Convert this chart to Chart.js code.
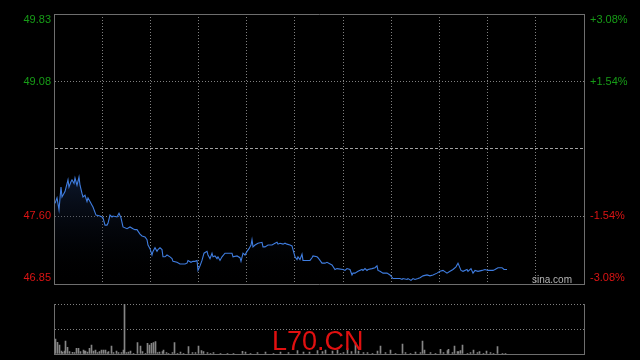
<!DOCTYPE html>
<html><head><meta charset="utf-8">
<script src="https://cdn.jsdelivr.net/npm/chart.js@4/dist/chart.umd.min.js"></script>
<style>
html,body{margin:0;padding:0;background:#000;}
#wrap{position:relative;width:640px;height:360px;background:#000;overflow:hidden;}
canvas{position:absolute;left:0;top:0;}
</style></head><body>
<div id="wrap">
<canvas id="price" width="640" height="360" style="width:640px;height:360px"></canvas>
<canvas id="vol" width="640" height="360" style="width:640px;height:360px"></canvas>
</div>
<script>
// ---- data ----
const symbol = 'L70.CN';
const site = 'sina.com';
const prevClose = 48.34;
const priceTicks = [46.85, 47.60, 48.34, 49.08, 49.83];
const leftLabels = ['46.85', '47.60', '', '49.08', '49.83'];
const rightLabels = ['-3.08%', '-1.54%', '', '+1.54%', '+3.08%'];
const gridTimes = [0, 48.2, 96.4, 144.5, 192.7, 240.9, 289.1, 337.3, 385.5, 433.6, 481.8, 530];

const times = [1,3,5,7,8,11,14,15,17,18,20,21,23,25,26,28,29,31,33,34,36,38,39,42,46,48,49,51,53,54,56,58,59,63,65,67,69,73,76,79,81,83,86,88,91,93,94,96,98,99,101,103,104,106,108,109,111,113,116,118,119,123,126,131,133,134,137,139,141,143,144,146,148,150,153,154,156,158,159,161,163,164,166,168,171,178,179,183,186,187,189,191,193,195,197,198,199,201,204,208,209,211,214,218,221,223,224,226,229,231,233,236,238,239,241,243,244,246,248,249,251,256,258,259,263,264,266,268,271,273,278,281,283,289,291,293,296,298,299,301,304,308,309,311,313,314,318,321,323,324,326,329,333,336,339,346,348,349,353,354,357,359,361,364,366,369,373,376,379,383,386,389,393,396,399,402,404,407,409,413,414,417,419,421,424,428,431,434,439,441,444,448,450,453];
const prices = [47.74,47.80,47.67,47.92,47.81,47.87,48.00,47.92,47.98,48.00,47.96,48.02,47.94,48.03,47.94,47.85,47.81,47.83,47.76,47.80,47.76,47.72,47.70,47.61,47.60,47.59,47.58,47.50,47.50,47.52,47.61,47.59,47.60,47.59,47.63,47.58,47.48,47.46,47.48,47.46,47.45,47.45,47.40,47.38,47.37,47.34,47.28,47.24,47.17,47.21,47.25,47.21,47.23,47.25,47.23,47.15,47.15,47.17,47.15,47.13,47.10,47.09,47.07,47.07,47.08,47.11,47.09,47.10,47.10,47.11,47.00,47.05,47.11,47.19,47.21,47.17,47.13,47.19,47.15,47.16,47.13,47.15,47.11,47.15,47.19,47.19,47.15,47.16,47.14,47.10,47.19,47.17,47.21,47.24,47.28,47.34,47.26,47.28,47.30,47.31,47.26,47.26,47.28,47.28,47.30,47.31,47.29,47.30,47.29,47.30,47.29,47.28,47.27,47.23,47.15,47.12,47.15,47.12,47.18,47.11,47.11,47.11,47.14,47.16,47.15,47.14,47.11,47.08,47.08,47.09,47.06,47.01,47.02,47.01,47.00,47.02,47.01,46.95,46.97,46.97,46.99,47.01,47.00,47.02,47.00,47.01,47.02,47.03,47.05,47.00,46.99,46.97,46.97,46.95,46.91,46.91,46.90,46.91,46.90,46.91,46.89,46.91,46.90,46.91,46.92,46.94,46.95,46.94,46.95,46.97,46.99,47.00,46.97,46.99,47.01,47.04,47.08,47.00,46.99,47.01,46.99,47.02,46.97,47.00,46.99,47.00,47.01,47.00,47.00,47.01,47.03,47.03,47.01,47.01];

const volTimes = [1,3,5,7,8,10,11,13,15,18,20,22,24,26,29,30,31,33,35,37,39,41,43,45,47,49,51,53,54,57,59,62,64,67,69,70,72,74,76,79,83,86,88,91,93,95,97,99,101,103,105,108,109,112,114,118,120,123,126,129,134,138,141,144,147,149,153,156,159,166,173,179,188,191,196,203,211,219,226,234,243,249,255,263,268,271,278,283,286,289,293,297,301,304,309,313,318,323,326,331,336,341,348,351,356,361,366,368,370,376,381,386,389,393,394,398,400,403,404,406,408,413,416,419,423,425,429,432,436,439,443,448,451];
const volumes = [1500,1170,900,300,170,300,1300,670,230,170,130,570,570,230,400,300,300,200,570,900,300,400,130,230,400,400,400,130,230,800,130,300,130,130,400,5000,130,200,300,70,1130,800,230,70,1070,900,1070,1130,1230,130,200,230,400,130,70,130,1130,70,200,70,730,130,130,800,330,230,130,70,130,70,70,70,270,200,70,130,200,70,200,130,330,200,200,330,230,400,300,400,70,130,530,230,1130,300,130,130,70,300,800,130,400,70,1000,130,70,200,130,1300,400,130,70,470,130,330,470,130,800,230,230,330,900,70,130,400,130,230,70,300,130,70,730,70,30];

// ---- styles ----
const GREEN = '#179c17', RED = '#dc1414';
const BORDER = '#6e6e6e', DOT = '#808080';
const FONT = '"Liberation Sans", Arial, sans-serif';
const T0 = 0, T1 = 530;
const volMax = Math.max(...volumes);

const priceLabels = {
  id: 'priceLabels',
  afterDraw(chart) {
    const {ctx, chartArea: a, scales: {y}} = chart;
    ctx.save();
    ctx.font = '11px ' + FONT;
    ctx.textBaseline = 'middle';
    priceTicks.forEach((v, i) => {
      if (!leftLabels[i]) return;
      let py = y.getPixelForValue(v);
      if (i === priceTicks.length - 1) py += 6;
      else if (i === 0) py -= 6;
      ctx.fillStyle = v >= prevClose ? GREEN : RED;
      ctx.textAlign = 'right';
      ctx.fillText(leftLabels[i], a.left - 3, py);
      ctx.textAlign = 'left';
      ctx.fillText(rightLabels[i], a.right + 6, py);
    });
    ctx.font = '10px ' + FONT;
    ctx.fillStyle = '#b4b4b4';
    ctx.textAlign = 'left';
    ctx.textBaseline = 'alphabetic';
    ctx.fillText(site, 532, a.bottom - 1);
    ctx.restore();
  }
};

const volLabel = {
  id: 'volLabel',
  afterDraw(chart) {
    const {ctx} = chart;
    ctx.save();
    ctx.font = '27px ' + FONT;
    ctx.fillStyle = '#e01010';
    ctx.textAlign = 'left';
    ctx.textBaseline = 'alphabetic';
    ctx.fillText(symbol, 272, 350);
    ctx.restore();
  }
};

function areaFill(c) {
  const chart = c.chart, a = chart.chartArea;
  if (!a) return 'rgba(0,0,0,0)';
  const y = chart.scales.y;
  const g = chart.ctx.createLinearGradient(0, y.getPixelForValue(Math.max(...prices)), 0, a.bottom);
  g.addColorStop(0, 'rgba(25,45,85,0.5)');
  g.addColorStop(1, 'rgba(0,0,0,0)');
  return g;
}

const zeroW = s => { s.width = 0; };
const zeroH = s => { s.height = 0; };

new Chart(document.getElementById('price'), {
  type: 'line',
  data: {
    datasets: [{
      data: times.map((t, i) => ({x: t, y: prices[i]})),
      borderColor: '#3f7de0',
      borderWidth: 1.1,
      pointRadius: 0,
      tension: 0,
      fill: 'start',
      backgroundColor: areaFill
    }]
  },
  options: {
    responsive: false,
    animation: false,
    layout: {padding: {left: 54, right: 56, top: 14, bottom: 76}},
    plugins: {legend: {display: false}, tooltip: {enabled: false}},
    scales: {
      x: {
        type: 'linear', min: T0, max: T1, position: 'bottom',
        afterBuildTicks: s => { s.ticks = gridTimes.map(v => ({value: v})); },
        ticks: {display: false},
        grid: {drawTicks: false, color: c => (c.index === 0 || c.index === gridTimes.length - 1) ? 'rgba(0,0,0,0)' : DOT},
        border: {display: true, color: BORDER, dash: [1, 2]},
        afterFit: zeroH
      },
      xTop: {
        type: 'linear', min: T0, max: T1, position: 'top',
        ticks: {display: false}, grid: {display: false, drawTicks: false},
        border: {display: true, color: BORDER},
        afterFit: zeroH
      },
      y: {
        type: 'linear', min: priceTicks[0], max: priceTicks[priceTicks.length - 1], position: 'left',
        afterBuildTicks: s => { s.ticks = priceTicks.map(v => ({value: v})); },
        ticks: {display: false},
        grid: {drawTicks: false, color: c => (c.index === 0 || c.index === priceTicks.length - 1) ? 'rgba(0,0,0,0)' : (c.tick && c.tick.value === prevClose ? '#a0a0a0' : DOT)},
        border: {display: true, color: BORDER, dash: c => (c.tick && c.tick.value === prevClose) ? [3, 2] : [1, 2]},
        afterFit: zeroW
      },
      y2: {
        type: 'linear', min: priceTicks[0], max: priceTicks[priceTicks.length - 1], position: 'right',
        ticks: {display: false}, grid: {display: false, drawTicks: false},
        border: {display: true, color: BORDER},
        afterFit: zeroW
      }
    }
  },
  plugins: [priceLabels]
});

new Chart(document.getElementById('vol'), {
  type: 'bar',
  data: {
    datasets: [{
      data: volTimes.map((t, i) => ({x: t, y: volumes[i]})),
      backgroundColor: '#858585',
      borderWidth: 0,
      barThickness: 1
    }]
  },
  options: {
    responsive: false,
    animation: false,
    layout: {padding: {left: 54.5, right: 55.5, top: 304, bottom: 6}},
    plugins: {legend: {display: false}, tooltip: {enabled: false}},
    scales: {
      x: {
        type: 'linear', min: T0, max: T1, position: 'bottom', offset: false,
        ticks: {display: false}, grid: {display: false, drawTicks: false},
        border: {display: true, color: BORDER},
        afterFit: zeroH
      },
      y: {
        type: 'linear', min: 0, max: volMax, position: 'left',
        afterBuildTicks: s => { s.ticks = [0, volMax / 2, volMax].map(v => ({value: v})); },
        ticks: {display: false},
        grid: {drawTicks: false, color: c => c.index === 0 ? 'rgba(0,0,0,0)' : DOT},
        border: {display: true, color: BORDER, dash: [1, 2]},
        afterFit: zeroW
      },
      y2: {
        type: 'linear', min: 0, max: volMax, position: 'right',
        ticks: {display: false}, grid: {display: false, drawTicks: false},
        border: {display: true, color: BORDER},
        afterFit: zeroW
      }
    }
  },
  plugins: [volLabel]
});
</script>
</body></html>
